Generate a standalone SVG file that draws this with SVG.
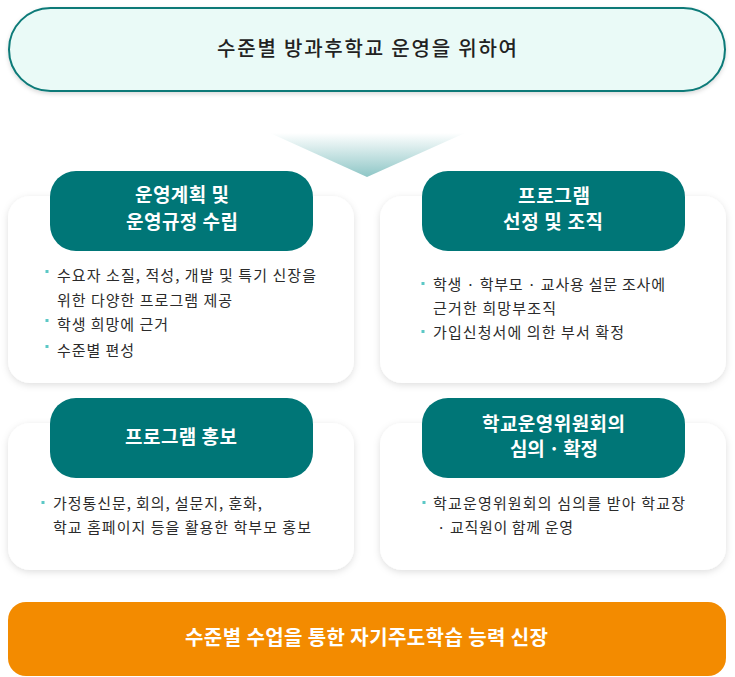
<svg xmlns="http://www.w3.org/2000/svg" width="735" height="677" viewBox="0 0 735 677">
<defs>
<linearGradient id="tri" x1="0" y1="0" x2="0" y2="1">
<stop offset="0" stop-color="#ffffff"/>
<stop offset="1" stop-color="#8ec6c6"/>
</linearGradient>
<filter id="sh" x="-10%" y="-10%" width="120%" height="130%">
<feDropShadow dx="0" dy="2" stdDeviation="3.5" flood-color="#000" flood-opacity="0.13"/>
</filter>
<filter id="sh2" x="-5%" y="-10%" width="110%" height="130%">
<feDropShadow dx="0" dy="2" stdDeviation="2" flood-color="#000" flood-opacity="0.15"/>
</filter>
</defs>
<style>
.card{fill:#ffffff;filter:url(#sh);}
.head{fill:#007677;}
.ht{font-family:"Noto Sans CJK KR","Noto Sans",sans-serif;font-size:19px;font-weight:700;fill:#ffffff;}
.bt{font-family:"Noto Sans CJK KR","Noto Sans",sans-serif;font-size:15px;fill:#2b2b2b;}
.bul{fill:#5cc8c6;}
</style>
<rect x="0" y="0" width="735" height="677" fill="#ffffff"/>
<g id="title">
<rect x="9" y="8" width="716" height="83" rx="41.5" fill="#eafaf7" stroke="#0b7a78" stroke-width="2" filter="url(#sh2)"/>
<text x="217" y="56" textLength="300" lengthAdjust="spacing" font-family="'Noto Sans CJK KR','Noto Sans',sans-serif" font-size="20" font-weight="500" fill="#222222">수준별 방과후학교 운영을 위하여</text>
</g>
<g id="connectors">
<polygon points="270,133 465,133 367,177" fill="url(#tri)"/>
</g>
<g id="node1">
<rect class="card" x="8" y="196" width="346" height="187" rx="22"/>
<rect class="head" x="50" y="171" width="263" height="80" rx="26"/>
<text class="ht" x="135" y="202" textLength="94" lengthAdjust="spacing">운영계획 및</text>
<text class="ht" x="126" y="229" textLength="112" lengthAdjust="spacing">운영규정 수립</text>
<rect class="bul" x="45.5" y="270" width="3" height="3"/>
<text class="bt" x="57" y="280.5" textLength="259" lengthAdjust="spacing">수요자 소질, 적성, 개발 및 특기 신장을</text>
<text class="bt" x="57" y="305.5" textLength="175" lengthAdjust="spacing">위한 다양한 프로그램 제공</text>
<rect class="bul" x="45.5" y="319" width="3" height="3"/>
<text class="bt" x="57" y="329.5" textLength="111" lengthAdjust="spacing">학생 희망에 근거</text>
<rect class="bul" x="45.5" y="345" width="3" height="3"/>
<text class="bt" x="57" y="355.5" textLength="77" lengthAdjust="spacing">수준별 편성</text>
</g>
<g id="node2">
<rect class="card" x="380" y="196" width="346" height="187" rx="22"/>
<rect class="head" x="422" y="171" width="263" height="80" rx="26"/>
<text class="ht" x="518" y="203" textLength="72" lengthAdjust="spacing">프로그램</text>
<text class="ht" x="503" y="229" textLength="100" lengthAdjust="spacing">선정 및 조직</text>
<rect class="bul" x="421.5" y="282" width="3" height="3"/>
<text class="bt" x="433" y="290" textLength="232" lengthAdjust="spacing">학생 · 학부모 · 교사용 설문 조사에</text>
<text class="bt" x="433" y="314" textLength="123" lengthAdjust="spacing">근거한 희망부조직</text>
<rect class="bul" x="421.5" y="330" width="3" height="3"/>
<text class="bt" x="433" y="338" textLength="191" lengthAdjust="spacing">가입신청서에 의한 부서 확정</text>
</g>
<g id="node3">
<rect class="card" x="8" y="423" width="346" height="147" rx="22"/>
<rect class="head" x="50" y="398" width="263" height="80" rx="26"/>
<text class="ht" x="125" y="444" textLength="112" lengthAdjust="spacing">프로그램 홍보</text>
<rect class="bul" x="41.5" y="501" width="3" height="3"/>
<text class="bt" x="53" y="509" textLength="209" lengthAdjust="spacing">가정통신문, 회의, 설문지, 훈화,</text>
<text class="bt" x="53" y="533" textLength="258" lengthAdjust="spacing">학교 홈페이지 등을 활용한 학부모 홍보</text>
</g>
<g id="node4">
<rect class="card" x="380" y="423" width="346" height="147" rx="22"/>
<rect class="head" x="422" y="398" width="263" height="80" rx="26"/>
<text class="ht" x="482" y="431" textLength="143" lengthAdjust="spacing">학교운영위원회의</text>
<text class="ht" x="510" y="456" textLength="88" lengthAdjust="spacing">심의 · 확정</text>
<rect class="bul" x="422.5" y="501" width="3" height="3"/>
<text class="bt" x="433" y="508.5" textLength="252" lengthAdjust="spacing">학교운영위원회의 심의를 받아 학교장</text>
<text class="bt" x="437" y="532.5" textLength="136" lengthAdjust="spacing">· 교직원이 함께 운영</text>
</g>
<g id="result">
<rect x="8" y="602" width="718" height="74" rx="18" fill="#f38b00"/>
<text x="185" y="645" textLength="363" lengthAdjust="spacing" font-family="'Noto Sans CJK KR','Noto Sans',sans-serif" font-size="20" font-weight="700" fill="#ffffff">수준별 수업을 통한 자기주도학습 능력 신장</text>
</g>
</svg>
